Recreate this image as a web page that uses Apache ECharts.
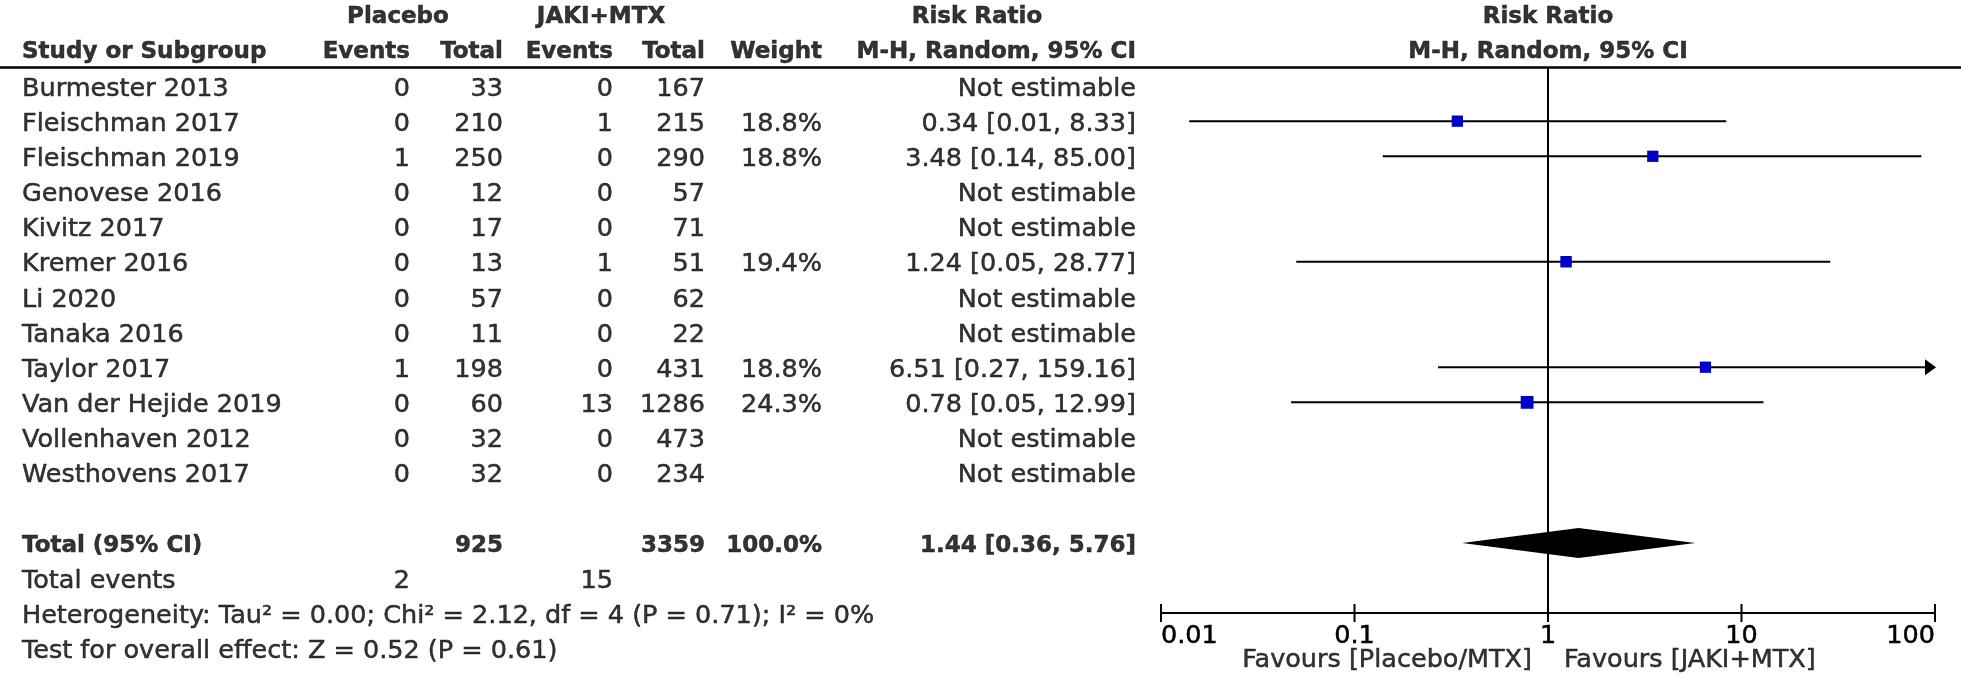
<!DOCTYPE html>
<html><head><meta charset="utf-8">
<script src="https://cdn.jsdelivr.net/npm/echarts@6.0.0/dist/echarts.min.js"></script>
<style>html,body{margin:0;padding:0;background:#fff}#c{width:1961px;height:678px}</style>
</head><body><div id="c"></div>
<script>
// ---------------- DATA ----------------
const studies = ["Burmester 2013","Fleischman 2017","Fleischman 2019","Genovese 2016","Kivitz 2017","Kremer 2016","Li 2020","Tanaka 2016","Taylor 2017","Van der Hejide 2019","Vollenhaven 2012","Westhovens 2017"];
const placeboEvents = [0,0,1,0,0,0,0,0,1,0,0,0];
const placeboTotal  = [33,210,250,12,17,13,57,11,198,60,32,32];
const jakiEvents    = [0,1,0,0,0,1,0,0,0,13,0,0];
const jakiTotal     = [167,215,290,57,71,51,62,22,431,1286,473,234];
const weights       = [null,18.8,18.8,null,null,19.4,null,null,18.8,24.3,null,null];
const riskRatio     = [null,0.34,3.48,null,null,1.24,null,null,6.51,0.78,null,null];
const ciLow         = [null,0.014,0.14,null,null,0.05,null,null,0.27,0.047,null,null];
const ciHigh        = [null,8.33,85.00,null,null,28.77,null,null,159.16,12.99,null,null];
const notEstimable  = "Not estimable";

const totalLabel = "Total (95% CI)";
const placeboN = 925, jakiN = 3359, totalWeight = 100.0;
const pooledRR = 1.44, pooledLow = 0.36, pooledHigh = 5.76;
const totalEventsLabel = "Total events";
const placeboTotalEvents = 2, jakiTotalEvents = 15;
const heterogeneityText = "Heterogeneity: Tau\u00b2 = 0.00; Chi\u00b2 = 2.12, df = 4 (P = 0.71); I\u00b2 = 0%";
const overallEffectText = "Test for overall effect: Z = 0.52 (P = 0.61)";

const headerGroups = ["Placebo","JAKI+MTX","Risk Ratio"];
const headerCols = ["Study or Subgroup","Events","Total","Events","Total","Weight","M-H, Random, 95% CI"];
const forestTitle = ["Risk Ratio","M-H, Random, 95% CI"];
const favoursLeft = "Favours [Placebo/MTX]";
const favoursRight = "Favours [JAKI+MTX]";
const tickValues = [0.01, 0.1, 1, 10, 100];
const tickLabels = ["0.01","0.1","1","10","100"];

// ---------------- LAYOUT ----------------
const W = 1961, H = 678;
const ROW0 = 86, ROWH = 35.15;
const FF = "DejaVu Sans", FS = 25.5, FSB = 23;
const STROKE = 0.5;
const BODY_DY = 3, HEAD_DY = 1;
const COL = {name:22, pe:410, pt:503, je:613, jt:705, wt:822, rr:1136};
const GRP = {placebo:398, jaki:601, rr:977};
const FOREST = {left:1161, right:1935, top:67, axis:613};
const ROW_H1 = -2, ROW_H2 = -1, ROW_TOTAL = 13, ROW_TEV = 14, ROW_HET = 15, ROW_TEST = 16, ROW_FAV = 16.33;
const SQUARE_K = 2.6;
const BLUE = "#0000c8";

const yOfPx = px => (px - ROW0) / ROWH;

const fmt2 = v => v.toFixed(2);
const rrText = i => riskRatio[i] == null ? notEstimable : `${fmt2(riskRatio[i])} [${fmt2(ciLow[i])}, ${fmt2(ciHigh[i])}]`;

function textSeries(items, align, bold, gridIdx, dy) {
  return {
    type: 'scatter', xAxisIndex: gridIdx, yAxisIndex: gridIdx, clip: false, silent: true,
    symbolSize: 1, itemStyle: {color: 'rgba(0,0,0,0)'},
    label: {show: true, position: 'inside', align: align, verticalAlign: 'middle', offset: [0, dy || 0],
      formatter: '{b}', color: '#000', textBorderColor: '#000', textBorderWidth: STROKE, fontFamily: FF,
      fontSize: bold ? FSB : FS, fontWeight: bold ? 'bold' : 'normal'},
    data: items.map(it => ({name: String(it[2]), value: [it[0], it[1]]}))
  };
}

const T = 1; // table grid index
const hdrC = [], regular = [], regularR = [], boldL = [], boldR = [];
hdrC.push([GRP.placebo, ROW_H1, headerGroups[0]], [GRP.jaki, ROW_H1, headerGroups[1]], [GRP.rr, ROW_H1, headerGroups[2]]);
const hdrL = [[COL.name, ROW_H2, headerCols[0]]];
const hdrR = [[COL.pe, ROW_H2, headerCols[1]], [COL.pt, ROW_H2, headerCols[2]], [COL.je, ROW_H2, headerCols[3]],
              [COL.jt, ROW_H2, headerCols[4]], [COL.wt, ROW_H2, headerCols[5]], [COL.rr, ROW_H2, headerCols[6]]];
studies.forEach((s, i) => {
  regular.push([COL.name, i, s]);
  regularR.push([COL.pe, i, placeboEvents[i]], [COL.pt, i, placeboTotal[i]],
                [COL.je, i, jakiEvents[i]], [COL.jt, i, jakiTotal[i]], [COL.rr, i, rrText(i)]);
  if (weights[i] != null) regularR.push([COL.wt, i, weights[i].toFixed(1) + '%']);
});
boldL.push([COL.name, ROW_TOTAL, totalLabel]);
boldR.push([COL.pt, ROW_TOTAL, placeboN], [COL.jt, ROW_TOTAL, jakiN], [COL.wt, ROW_TOTAL, totalWeight.toFixed(1) + '%'],
           [COL.rr, ROW_TOTAL, `${fmt2(pooledRR)} [${fmt2(pooledLow)}, ${fmt2(pooledHigh)}]`]);
regular.push([COL.name, ROW_TEV, totalEventsLabel], [COL.name, ROW_HET, heterogeneityText], [COL.name, ROW_TEST, overallEffectText]);
regularR.push([COL.pe, ROW_TEV, placeboTotalEvents], [COL.je, ROW_TEV, jakiTotalEvents]);

const tableSeries = [
  textSeries(regular, 'left', false, T, BODY_DY),
  textSeries(regularR, 'right', false, T, BODY_DY),
  textSeries(boldL, 'left', true, T, BODY_DY),
  textSeries(boldR, 'right', true, T, BODY_DY),
  textSeries(hdrC, 'center', true, T, HEAD_DY),
  textSeries(hdrL, 'left', true, T, HEAD_DY),
  textSeries(hdrR, 'right', true, T, HEAD_DY)
];
tableSeries[0].markLine = {silent: true, symbol: ['none','none'], label: {show: false},
  lineStyle: {color: '#000', width: 2.5, type: 'solid'}, data: [{yAxis: yOfPx(FOREST.top)}]};

const forestText = textSeries([[1, ROW_H1, forestTitle[0]], [1, ROW_H2, forestTitle[1]]], 'center', true, 0, HEAD_DY);
const favL = textSeries([[1, ROW_FAV, favoursLeft]], 'right', false, 0, 0);
favL.label.offset = [-16, 0];
const favR = textSeries([[1, ROW_FAV, favoursRight]], 'left', false, 0, 0);
favR.label.offset = [16, 0];

const xMaxV = tickValues[tickValues.length - 1];
const axisV = yOfPx(FOREST.axis);
const ciData = [];
studies.forEach((s, i) => { if (riskRatio[i] != null) ciData.push([i, ciLow[i], ciHigh[i], riskRatio[i], weights[i]]); });

const ciSeries = {
  type: 'custom', xAxisIndex: 0, yAxisIndex: 0, clip: false, silent: true, z: 5,
  data: ciData, encode: {x: [1, 2, 3], y: 0},
  renderItem(params, api) {
    const row = api.value(0), lo = api.value(1), hi = api.value(2), est = api.value(3), w = api.value(4);
    const a = api.coord([lo, row]), b = api.coord([Math.min(hi, xMaxV), row]), c = api.coord([est, row]);
    const s = SQUARE_K * Math.sqrt(w);
    const ch = [
      {type: 'line', shape: {x1: a[0], y1: a[1], x2: b[0], y2: b[1]}, style: {stroke: '#000', lineWidth: 2}},
      {type: 'rect', shape: {x: c[0] - s / 2, y: c[1] - s / 2, width: s, height: s}, style: {fill: BLUE}}
    ];
    if (hi > xMaxV) ch.push({type: 'polygon', shape: {points: [[b[0] - 10, b[1] - 8], [b[0] + 1, b[1]], [b[0] - 10, b[1] + 8]]}, style: {fill: '#000'}});
    return {type: 'group', children: ch};
  }
};
const diamondSeries = {
  type: 'custom', xAxisIndex: 0, yAxisIndex: 0, clip: false, silent: true, z: 6,
  data: [[ROW_TOTAL, pooledLow, pooledHigh, pooledRR]], encode: {x: [1, 2, 3], y: 0},
  renderItem(params, api) {
    const row = api.value(0);
    const a = api.coord([api.value(1), row]), b = api.coord([api.value(2), row]), c = api.coord([api.value(3), row]);
    const h = 15;
    return {type: 'polygon', shape: {points: [[a[0], a[1]], [c[0], c[1] - h], [b[0], b[1]], [c[0], c[1] + h]]}, style: {fill: '#000'}};
  }
};
const tickSeries = {
  type: 'custom', xAxisIndex: 0, yAxisIndex: 0, clip: false, silent: true, z: 7,
  data: tickValues.map(v => [v, axisV]), encode: {x: 0, y: 1},
  renderItem(params, api) {
    const p = api.coord([api.value(0), api.value(1)]);
    return {type: 'line', shape: {x1: p[0], y1: p[1] - 9, x2: p[0], y2: p[1] + 9}, style: {stroke: '#000', lineWidth: 2}};
  }
};
const refLine = {
  type: 'scatter', xAxisIndex: 0, yAxisIndex: 0, data: [], silent: true, z: 4,
  markLine: {silent: true, symbol: ['none','none'], label: {show: false},
    lineStyle: {color: '#000', width: 2, type: 'solid'}, data: [{xAxis: 1}]}
};

const labelFmt = v => { let k = 0, d = 1e9; tickValues.forEach((t, i) => { const e = Math.abs(Math.log10(t) - Math.log10(v)); if (e < d) { d = e; k = i; } }); return tickLabels[k]; };

const option = {
  backgroundColor: '#fff',
  animation: false,
  grid: [
    {left: FOREST.left, width: FOREST.right - FOREST.left, top: FOREST.top, height: FOREST.axis - FOREST.top, outerBoundsMode: 'none', containLabel: false},
    {left: 0, top: 0, width: W, height: H, outerBoundsMode: 'none', containLabel: false}
  ],
  xAxis: [
    {type: 'log', logBase: 10, gridIndex: 0, min: tickValues[0], max: xMaxV, position: 'bottom',
      axisLine: {show: true, onZero: false, lineStyle: {color: '#000', width: 2}},
      axisTick: {show: false},
      axisLabel: {show: true, margin: 10, color: '#000', textBorderColor: '#000', textBorderWidth: STROKE,
        fontFamily: FF, fontSize: FS, formatter: labelFmt,
        showMinLabel: true, showMaxLabel: true, alignMinLabel: 'left', alignMaxLabel: 'right'},
      splitLine: {show: false}},
    {type: 'value', gridIndex: 1, min: 0, max: W, show: false}
  ],
  yAxis: [
    {type: 'value', gridIndex: 0, inverse: true, min: yOfPx(FOREST.top), max: yOfPx(FOREST.axis), show: false},
    {type: 'value', gridIndex: 1, inverse: true, min: yOfPx(0), max: yOfPx(H), show: false}
  ],
  series: [refLine, ciSeries, diamondSeries, tickSeries, forestText, favL, favR].concat(tableSeries)
};

const chart = echarts.init(document.getElementById('c'), null, {renderer: 'canvas'});
chart.setOption(option);
</script>
</body></html>
